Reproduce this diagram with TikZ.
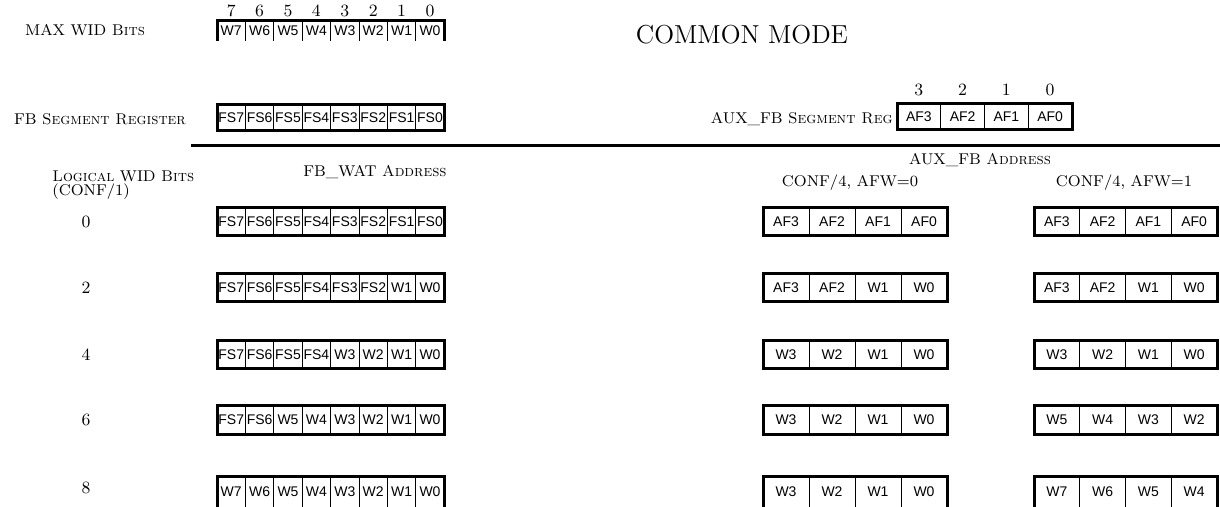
\documentclass[tikz,border=0pt]{standalone}
\usepackage{fontspec}
\newfontfamily\cellfont{Liberation Sans}
\tikzset{
  cell/.style={inner sep=0pt, outer sep=0pt, font=\cellfont\fontsize{7}{8}\selectfont},
  lab/.style={inner sep=0pt, font=\fontsize{7.8}{8}\selectfont},
  digit/.style={inner sep=0pt, font=\fontsize{8.6}{9}\selectfont},
  frame/.style={line width=1.5pt},
  div/.style={line width=0.4pt},
  rule/.style={line width=1.5pt},
}
% closed register: name, x, y(top), cell width, height, n, list
\newcommand{\reg}[7]{%
  \foreach \lbl [count=\i] in {#7} {
    \node[cell, minimum width={#4*0.5pt}, minimum height={#5*0.5pt}, anchor=north west]
      (#1-\i) at ({#2+(\i-1)*#4},#3) {\lbl};
  }
  \foreach \i in {2,...,#6} { \draw[div] (#1-\i.north west) -- (#1-\i.south west); }
  \draw[frame] (#1-1.north west) rectangle (#1-#6.south east);
}
% open-bottom register
\newcommand{\oreg}[7]{%
  \foreach \lbl [count=\i] in {#7} {
    \node[cell, minimum width={#4*0.5pt}, minimum height={#5*0.5pt}, anchor=north west]
      (#1-\i) at ({#2+(\i-1)*#4},#3) {\lbl};
  }
  \foreach \i in {2,...,#6} { \draw[div] (#1-\i.north west) -- (#1-\i.south west); }
  \draw[frame] (#1-1.south west) -- (#1-1.north west) -- (#1-#6.north east) -- (#1-#6.south east);
}
\begin{document}
\begin{tikzpicture}[x=0.5pt,y=-0.5pt]
\useasboundingbox (0,0) rectangle (1220,507);

% top registers
\node[lab] (maxlab) at (85,30) {MAX WID \textsc{Bits}};
\oreg{max}{217}{21}{28.4}{20}{8}{W7,W6,W5,W4,W3,W2,W1,W0}
\coordinate (digy) at (0,11);
\foreach \d [count=\i] in {7,6,5,4,3,2,1,0} {
  \node[digit] (maxd-\i) at (max-\i.north |- digy) {\d};
}
\node[inner sep=0pt, font=\fontsize{13}{14}\selectfont] (common) at (742,35) {COMMON MODE};

\node[lab] (fbseglab) at (100,119) {FB \textsc{Segment Register}};
\reg{fbseg}{217}{105}{28.4}{26}{8}{FS7,FS6,FS5,FS4,FS3,FS2,FS1,FS0}

\node[lab, anchor=east] (auxseglab) at (893,119) {AUX\_FB \textsc{Segment Reg}};
\reg{auxseg}{897}{104}{43.75}{26}{4}{AF3,AF2,AF1,AF0}
\coordinate (adigy) at (0,90);
\foreach \d [count=\i] in {3,2,1,0} {
  \node[digit] (auxd-\i) at (auxseg-\i.north |- adigy) {\d};
}

% separator rule
\coordinate (ruleL) at (191,146);
\coordinate (ruleR) at (1220,146);
\draw[rule] (ruleL) -- (ruleR);

% headings
\node[lab] (wathead) at (375,172) {FB\_WAT \textsc{Address}};
\node[lab, anchor=west] (loglab) at (52,176) {\textsc{Logical} WID \textsc{Bits}};
\node[lab, anchor=west] (conflab) at (52,192) {(CONF/1)};
\node[lab] (auxhead) at (980,160) {AUX\_FB \textsc{Address}};
\node[lab] (afw0) at (850,183) {CONF/4, AFW=0};
\node[lab] (afw1) at (1124,183) {CONF/4, AFW=1};

% row labels
\node[digit] (r0) at (86,222) {0};
\node[digit] (r2) at (86,288) {2};
\node[digit] (r4) at (86,355) {4};
\node[digit] (r6) at (86,420) {6};
\node[digit] (r8) at (86,488) {8};

% FB_WAT rows
\reg{wa}{217}{208}{28.4}{28}{8}{FS7,FS6,FS5,FS4,FS3,FS2,FS1,FS0}
\reg{wb}{217}{274}{28.4}{28}{8}{FS7,FS6,FS5,FS4,FS3,FS2,W1,W0}
\reg{wc}{217}{341}{28.4}{28}{8}{FS7,FS6,FS5,FS4,W3,W2,W1,W0}
\reg{wd}{217}{406}{28.4}{28}{8}{FS7,FS6,W5,W4,W3,W2,W1,W0}
\oreg{we}{217}{476}{28.4}{32}{8}{W7,W6,W5,W4,W3,W2,W1,W0}

% AUX, AFW=0
\reg{la}{763}{208}{46}{28}{4}{AF3,AF2,AF1,AF0}
\reg{lb}{763}{274}{46}{28}{4}{AF3,AF2,W1,W0}
\reg{lc}{763}{341}{46}{28}{4}{W3,W2,W1,W0}
\reg{ld}{763}{406}{46}{28}{4}{W3,W2,W1,W0}
\oreg{le}{763}{476}{46}{32}{4}{W3,W2,W1,W0}

% AUX, AFW=1
\reg{ra}{1034}{208}{45.75}{28}{4}{AF3,AF2,AF1,AF0}
\reg{rb}{1034}{274}{45.75}{28}{4}{AF3,AF2,W1,W0}
\reg{rc}{1034}{341}{45.75}{28}{4}{W3,W2,W1,W0}
\reg{rd}{1034}{406}{45.75}{28}{4}{W5,W4,W3,W2}
\oreg{re}{1034}{476}{45.75}{32}{4}{W7,W6,W5,W4}
\end{tikzpicture}
\end{document}
